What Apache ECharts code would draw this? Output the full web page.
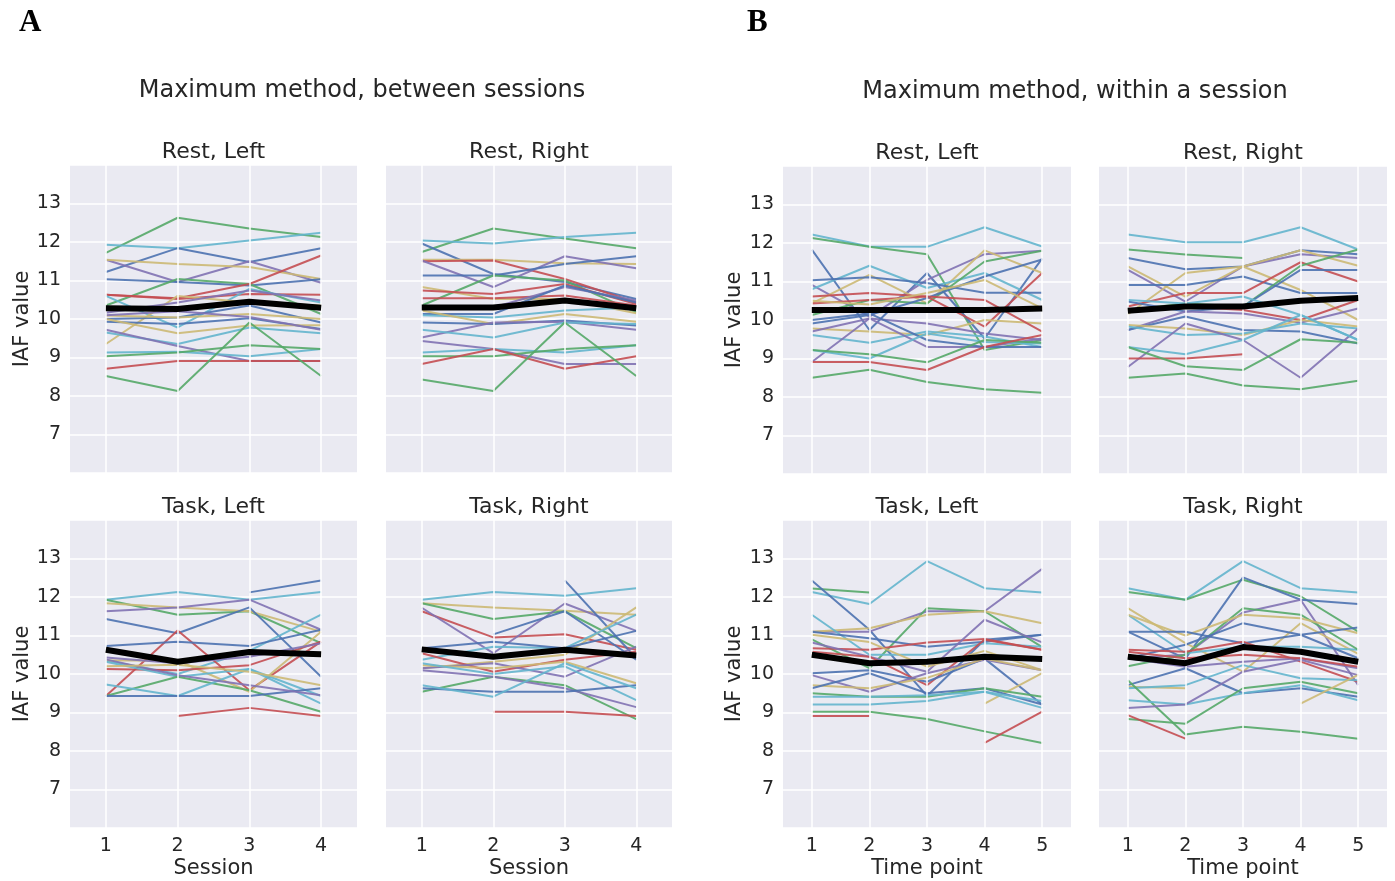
<!DOCTYPE html>
<html>
<head>
<meta charset="utf-8">
<script src="https://cdn.jsdelivr.net/npm/echarts@6/dist/echarts.min.js"></script>
<style>
html,body{margin:0;padding:0;background:#fff;}
#chart{width:1395px;height:881px;}
</style>
</head>
<body>
<div id="chart"></div>
<script>
// ---------------- DATA ----------------
const sessions = ['1', '2', '3', '4'];
const timePoints = ['1', '2', '3', '4', '5'];
const yTicks = [7, 8, 9, 10, 11, 12, 13];

// A: Maximum method, between sessions
const aRestLeft = [
  [11.72, 12.63, 12.35, 12.13], [11.93, 11.84, 12.04, 12.24], [11.22, 11.84, 11.48, 11.84],
  [11.54, 10.96, 11.50, 10.94], [11.54, 11.43, 11.35, 11.04], [11.03, 10.96, 10.87, 11.03],
  [10.35, 11.04, 10.91, 10.13], [10.63, 10.54, 10.91, 11.65], [10.63, 10.52, 10.65, 10.63],
  [10.60, 9.78, 10.78, 10.43], [9.35, 10.60, 10.43, 10.35], [10.16, 10.43, 10.74, 10.48],
  [10.00, 10.04, 10.35, 9.91], [10.09, 10.04, 10.13, 10.00], [9.93, 9.87, 10.02, 9.74],
  [10.00, 9.63, 9.83, 9.84], [10.10, 10.20, 10.05, 9.72], [9.65, 9.35, 9.78, 9.63],
  [9.72, 9.30, 8.91, 8.91], [9.13, 9.15, 9.03, 9.22], [9.03, 9.13, 9.32, 9.22],
  [8.71, 8.91, 8.91, 8.91], [8.52, 8.13, 9.91, 8.52]
];
const aRestLeftColors = ['g','c','b','p','y','b','g','r','r','c','y','p','b','y','b','y','p','c','p','c','g','r','g'];
const aRestLeftMean = [10.28, 10.26, 10.45, 10.29];

const aRestRight = [
  [11.74, 12.35, 12.09, 11.84], [12.04, 11.96, 12.13, 12.24], [11.96, 11.17, 10.96, 10.52],
  [11.54, 11.54, 11.45, 11.43], [11.50, 11.52, 11.04, 10.43], [11.52, 10.83, 11.63, 11.32],
  [11.13, 11.13, 11.43, 11.63], [10.35, 11.13, 11.00, 10.17], [10.83, 10.52, 10.52, 10.15],
  [10.74, 10.65, 10.91, 10.39], [10.54, 10.54, 10.61, 10.35], [10.30, 10.30, 10.83, 10.48],
  [10.13, 10.13, 10.87, 10.43], [10.10, 10.04, 10.22, 10.30], [10.22, 9.87, 10.13, 9.93],
  [9.91, 9.87, 9.96, 9.83], [9.52, 9.91, 9.93, 9.72], [9.72, 9.52, 9.91, 9.87],
  [9.43, 9.22, 8.83, 8.83], [9.13, 9.22, 9.13, 9.32], [9.03, 9.03, 9.22, 9.32],
  [8.83, 9.22, 8.71, 9.03], [8.43, 8.13, 9.91, 8.52]
];
const aRestRightColors = ['g','c','b','y','r','p','b','g','y','r','r','p','b','c','y','b','p','c','p','c','g','r','g'];
const aRestRightMean = [10.30, 10.30, 10.48, 10.28];

const aTaskLeft = [
  [11.93, 12.13, 11.93, 12.13], [null, null, 12.12, 12.43], [11.93, 11.54, 11.63, 10.80],
  [11.84, 11.73, 11.63, 11.10], [11.63, 11.73, 11.93, 11.15], [11.43, 11.06, 11.73, 9.93],
  [10.35, 10.00, 10.60, 11.54], [9.43, 11.13, 9.58, 10.84], [10.73, 10.84, 10.73, 11.15],
  [10.35, 10.35, 9.54, 11.10], [10.13, 10.10, 10.23, 10.84], [10.43, 10.28, 10.45, 10.80],
  [10.32, 9.93, 10.13, 9.23], [9.43, 9.93, 9.58, 9.02], [9.73, 9.43, 10.13, 9.43],
  [9.43, 9.43, 9.43, 9.63], [10.38, 9.97, 9.71, 9.45], [10.20, 10.24, 10.06, 9.71],
  [null, 8.91, 9.12, 8.91]
];
const aTaskLeftColors = ['c','b','g','y','p','b','c','r','b','y','r','p','c','g','c','b','p','y','r'];
const aTaskLeftMean = [10.63, 10.32, 10.57, 10.51];

const aTaskRight = [
  [11.93, 12.13, 12.03, 12.23], [11.84, 11.73, 11.64, 11.54], [11.84, 11.43, 11.63, 10.67],
  [11.63, 10.95, 11.03, 10.63], [11.72, 10.54, 11.83, 11.12], [null, 11.03, 11.63, 10.37],
  [null, null, 12.43, 10.41], [10.15, 10.32, 10.50, 11.73], [10.37, 10.71, 10.67, 11.54],
  [10.67, 10.84, 10.67, 11.12], [10.54, 10.06, 10.37, 10.58], [10.15, 10.28, 9.93, 10.71],
  [10.23, 10.15, 10.32, 9.76], [10.28, 10.00, 10.20, 9.32], [9.54, 9.93, 9.71, 8.83],
  [10.10, 9.93, 9.63, 9.14], [9.63, 9.54, 9.54, 9.71], [9.71, 9.41, 10.28, 9.63],
  [null, 9.02, 9.02, 8.91]
];
const aTaskRightColors = ['c','y','g','r','p','b','b','y','c','b','r','p','y','c','g','p','b','c','r'];
const aTaskRightMean = [10.64, 10.45, 10.63, 10.48];

// B: Maximum method, within a session
const bRestLeft = [
  [12.22, 11.91, 11.90, 12.41, 11.91], [12.13, 11.90, 11.71, 9.22, 9.48], [11.83, 9.74, 11.22, 9.52, 11.60],
  [10.91, 10.09, 11.04, 11.71, 11.80], [10.43, 11.17, 10.43, 11.81, 11.22], [10.80, 11.41, 10.83, 11.22, 10.52],
  [11.03, 11.11, 10.96, 10.71, 10.71], [10.13, 10.52, 10.43, 11.52, 11.80], [10.61, 10.70, 10.61, 9.83, 11.22],
  [9.91, 10.13, 10.57, 11.13, 11.57], [9.78, 9.70, 9.61, 10.00, 9.91], [9.70, 10.04, 9.91, 9.65, 9.48],
  [10.43, 10.52, 10.61, 10.52, 9.70], [9.61, 9.41, 9.70, 9.57, 9.30], [8.91, 10.04, 9.30, 9.30, 9.52],
  [10.00, 10.17, 9.48, 9.30, 9.30], [9.22, 9.00, 9.65, 9.43, 9.39], [9.22, 9.11, 8.90, 9.48, 9.41],
  [8.91, 8.91, 8.70, 9.30, 9.61], [8.50, 8.71, 8.39, 8.20, 8.11], [10.50, 10.40, 10.70, 11.04, 10.30]
];
const bRestLeftColors = ['c','g','b','p','y','c','b','g','r','b','y','p','r','c','p','b','c','g','r','g','y'];
const bRestLeftMean = [10.26, 10.26, 10.26, 10.26, 10.30];

const bRestRight = [
  [12.22, 12.02, 12.02, 12.41, 11.83], [11.83, 11.70, 11.61, null, null], [11.61, 11.32, 11.39, 11.81, 11.71],
  [11.30, 10.48, 11.39, 11.71, 11.61], [11.39, 10.61, 11.39, 11.81, 11.41], [10.15, 11.22, 11.39, 10.78, 10.00],
  [10.91, 10.91, 11.13, 10.70, 10.70], [10.35, 10.70, 10.70, 11.50, 11.00], [10.26, 10.43, 10.35, 11.41, 11.83],
  [10.48, 10.22, 10.35, 11.30, 11.30], [10.26, 10.35, 10.26, 10.00, 10.52], [9.74, 10.22, 10.17, 9.93, 10.30],
  [10.52, 10.43, 10.61, 10.13, 9.48], [9.74, 10.09, 9.74, 9.70, 9.39], [9.87, 9.78, 9.61, 10.00, 9.83],
  [9.83, 9.61, 9.65, 9.91, 9.78], [8.78, 9.91, 9.48, 8.50, 9.78], [9.30, 9.11, 9.48, 10.13, 9.48],
  [9.00, 9.00, 9.11, null, null], [9.30, 8.80, 8.70, 9.50, 9.41], [8.50, 8.61, 8.30, 8.20, 8.42]
];
const bRestRightColors = ['c','g','b','p','y','y','b','r','g','b','r','p','c','b','y','c','p','c','r','g','g'];
const bRestRightMean = [10.24, 10.35, 10.35, 10.50, 10.57];

const bTaskLeft = [
  [12.13, 11.82, 12.93, 12.23, 12.12], [12.22, 12.12, null, null, null], [12.43, 11.15, 9.43, 10.89, 11.02],
  [11.10, 11.10, 11.63, 11.63, 12.73], [10.90, 10.15, 11.71, 11.63, 10.70], [11.10, 11.19, 11.54, 11.63, 11.32],
  [11.54, 10.50, 10.50, 10.80, 10.71], [11.10, 10.93, 10.71, 10.84, 11.02], [10.67, 10.63, 10.82, 10.91, 10.63],
  [10.82, 10.45, 10.06, 11.41, 10.82], [11.02, 10.83, 10.19, 10.60, 10.10], [10.58, 10.45, 9.71, 10.89, 10.63],
  [10.02, 10.10, 9.80, 10.40, 9.21], [9.97, 9.54, 10.02, 10.37, 10.10], [9.71, 9.63, 9.90, 10.40, 10.10],
  [null, null, null, 9.23, 10.02], [9.63, 10.02, 9.50, 9.63, 9.21], [9.50, 9.41, 9.41, 9.63, 9.41],
  [9.41, 9.41, 9.45, 9.54, 9.12], [9.21, 9.21, 9.30, 9.54, 9.30], [9.02, 9.02, 8.83, 8.51, 8.21],
  [8.91, 8.91, null, null, null], [null, null, null, 8.21, 9.02]
];
const bTaskLeftColors = ['c','g','b','p','g','y','c','b','r','p','y','r','b','p','y','y','b','g','c','c','g','r','r'];
const bTaskLeftMean = [10.50, 10.28, 10.32, 10.45, 10.39];

const bTaskRight = [
  [12.23, 11.93, 12.93, 12.23, 12.12], [12.13, 11.93, 12.45, 12.02, 11.10], [11.10, 10.40, 12.51, 11.93, 11.82],
  [10.41, 10.50, 11.60, 11.93, 9.71], [11.71, 10.80, 10.06, 11.32, 10.52], [11.54, 10.54, 10.71, 10.71, 10.63],
  [10.20, 10.50, 11.71, 11.54, 10.63], [11.54, 11.00, 11.54, 11.45, 11.06], [11.10, 11.10, 10.80, 11.02, 11.21],
  [10.41, 10.76, 11.32, 11.02, 10.41], [10.63, 10.58, 10.84, 10.32, 9.80], [10.41, 10.19, 10.32, 10.41, 10.15],
  [10.58, 10.41, 10.50, 10.41, 10.19], [9.71, 10.15, 9.50, 9.63, 9.41], [9.67, 9.63, null, null, null],
  [9.63, 9.71, 10.23, 9.89, 9.84], [9.84, 8.43, 8.63, 8.50, 8.32], [9.32, 9.21, 9.50, 9.71, 9.32],
  [9.12, 9.21, 10.06, 10.37, 9.97], [8.83, 8.71, 9.63, 9.80, 9.50], [8.93, 8.32, null, null, null],
  [null, null, null, 9.23, 9.98]
];
const bTaskRightColors = ['c','g','b','p','y','c','g','y','b','b','r','p','r','b','y','c','g','c','p','g','r','y'];
const bTaskRightMean = [10.45, 10.28, 10.70, 10.58, 10.32];

// ---------------- STYLE / LAYOUT ----------------
const palette = { b: '#4C72B0', g: '#55A868', r: '#C44E52', p: '#8172B2', y: '#CCB974', c: '#64B5CD' };
const TXT = '#262626';
const FONT = '"DejaVu Sans", "Liberation Sans", sans-serif';

const panels = [
  { vals: aRestLeft, cols: aRestLeftColors, mean: aRestLeftMean, cats: sessions, title: 'Rest, Left',
    left: 70, top: 165, width: 287, showY: true, showX: false, yGap: 36 },
  { vals: aRestRight, cols: aRestRightColors, mean: aRestRightMean, cats: sessions, title: 'Rest, Right',
    left: 386, top: 165, width: 286, showY: false, showX: false },
  { vals: aTaskLeft, cols: aTaskLeftColors, mean: aTaskLeftMean, cats: sessions, title: 'Task, Left',
    left: 70, top: 520, width: 287, showY: true, showX: true, xName: 'Session', yGap: 36 },
  { vals: aTaskRight, cols: aTaskRightColors, mean: aTaskRightMean, cats: sessions, title: 'Task, Right',
    left: 386, top: 520, width: 286, showY: false, showX: true, xName: 'Session' },
  { vals: bRestLeft, cols: bRestLeftColors, mean: bRestLeftMean, cats: timePoints, title: 'Rest, Left',
    left: 783, top: 166, width: 288, showY: true, showX: false, yGap: 38 },
  { vals: bRestRight, cols: bRestRightColors, mean: bRestRightMean, cats: timePoints, title: 'Rest, Right',
    left: 1099, top: 166, width: 288, showY: false, showX: false },
  { vals: bTaskLeft, cols: bTaskLeftColors, mean: bTaskLeftMean, cats: timePoints, title: 'Task, Left',
    left: 783, top: 520, width: 288, showY: true, showX: true, xName: 'Time point', yGap: 38 },
  { vals: bTaskRight, cols: bTaskRightColors, mean: bTaskRightMean, cats: timePoints, title: 'Task, Right',
    left: 1099, top: 520, width: 288, showY: false, showX: true, xName: 'Time point' }
];
const PH = 308;

const grid = [], xAxis = [], yAxis = [], series = [];
const title = [
  { text: 'A', left: 19, top: 7, padding: 0, textStyle: { fontFamily: '"Liberation Serif", "DejaVu Serif", serif', fontWeight: 'bold', fontSize: 31, color: '#000' } },
  { text: 'B', left: 747, top: 7, padding: 0, textStyle: { fontFamily: '"Liberation Serif", "DejaVu Serif", serif', fontWeight: 'bold', fontSize: 31, color: '#000' } },
  { text: 'Maximum method, between sessions', left: 362, top: 79, padding: 0, textAlign: 'center',
    textStyle: { fontFamily: FONT, fontWeight: 'normal', fontSize: 24, color: TXT } },
  { text: 'Maximum method, within a session', left: 1075, top: 80, padding: 0, textAlign: 'center',
    textStyle: { fontFamily: FONT, fontWeight: 'normal', fontSize: 24, color: TXT } }
];

panels.forEach((pn, i) => {
  grid.push({ left: pn.left, top: pn.top, width: pn.width, height: PH, show: true,
              backgroundColor: '#EAEAF2', borderWidth: 0, containLabel: false });
  title.push({ text: pn.title, left: pn.left + pn.width / 2, top: pn.top - 24, padding: 0, textAlign: 'center',
               textStyle: { fontFamily: FONT, fontWeight: 'normal', fontSize: 22, color: TXT } });
  xAxis.push({
    type: 'category', gridIndex: i, data: pn.cats, boundaryGap: true,
    axisLine: { show: false }, axisTick: { show: false }, splitLine: { show: false },
    axisLabel: { show: pn.showX, color: TXT, fontSize: 19, fontFamily: FONT, margin: 9 },
    name: pn.showX ? pn.xName : '', nameLocation: 'middle', nameGap: 30,
    nameTextStyle: { color: TXT, fontSize: 21, fontFamily: FONT }
  });
  yAxis.push({
    type: 'value', gridIndex: i, min: 6, max: 14, interval: 1,
    axisLine: { show: false }, axisTick: { show: false },
    splitLine: { show: true, lineStyle: { color: '#FFFFFF', width: 1.5 } },
    axisLabel: { show: pn.showY, color: TXT, fontSize: 19, fontFamily: FONT, margin: 9,
                 formatter: v => (yTicks.indexOf(v) >= 0 ? String(v) : '') },
    name: pn.showY ? 'IAF value' : '', nameLocation: 'middle', nameGap: pn.yGap || 36,
    nameTextStyle: { color: TXT, fontSize: 21, fontFamily: FONT }
  });
  // vertical grid lines at category centers (behind data)
  series.push({
    type: 'line', xAxisIndex: i, yAxisIndex: i, data: pn.cats.map(() => null), z: 1, silent: true,
    symbol: 'none', lineStyle: { opacity: 0 },
    markLine: { silent: true, symbol: ['none', 'none'], label: { show: false }, animation: false,
      lineStyle: { color: '#FFFFFF', width: 1.5, type: 'solid' },
      data: pn.cats.map(c => ({ xAxis: c })) }
  });
  pn.vals.forEach((row, k) => {
    series.push({
      type: 'line', xAxisIndex: i, yAxisIndex: i, data: row, z: 3,
      symbol: 'none', connectNulls: false, silent: true,
      lineStyle: { color: palette[pn.cols[k]], width: 2, opacity: 0.9 }
    });
  });
  series.push({
    type: 'line', xAxisIndex: i, yAxisIndex: i, data: pn.mean, z: 5,
    symbol: 'none', silent: true, lineStyle: { color: '#000000', width: 6 }
  });
});

const chart = echarts.init(document.getElementById('chart'), null, { renderer: 'canvas' });
chart.setOption({ animation: false, backgroundColor: '#FFFFFF', title, grid, xAxis, yAxis, series });
</script>
</body>
</html>
